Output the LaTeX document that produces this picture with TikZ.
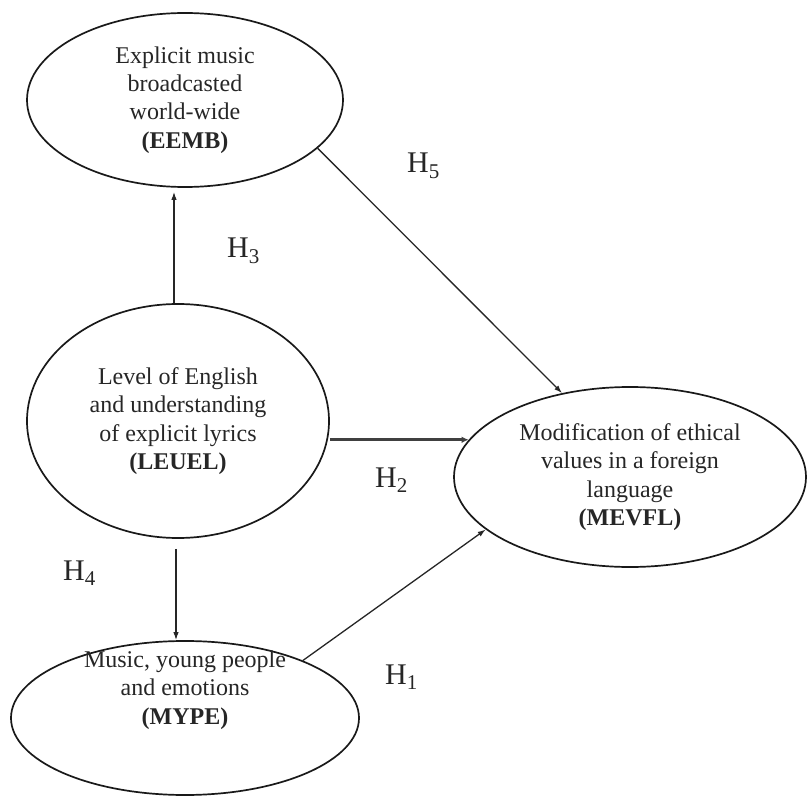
\documentclass[tikz,border=0pt]{standalone}
\usepackage{fontspec}
\setmainfont{Liberation Serif}
\usetikzlibrary{arrows.meta,shapes.geometric}
\begin{document}
\begin{tikzpicture}[x=1pt,y=-1pt,
  box/.style={draw=black!90, line width=1.7pt, ellipse, inner sep=0pt, align=center,
              text=black!85, font=\fontsize{24}{28.3}\selectfont},
  txt/.style={inner sep=0pt, align=center, text=black!85, font=\fontsize{24}{28.3}\selectfont},
  arr/.style={draw=black!85, line width=1.3pt, -{Latex[length=8pt,width=5.5pt]}},
  arrthick/.style={draw=black!75, line width=2.6pt, -{Latex[length=7pt,width=6.5pt]}},
  hyp/.style={anchor=base west, inner sep=0pt, text=black!85, font=\fontsize{30}{36}\selectfont}]

\useasboundingbox (0,0) rectangle (807,797);

\node[box, minimum width=316pt, minimum height=174pt] (EEMB) at (185,100)
  {Explicit music\\broadcasted\\world-wide\\\textbf{(EEMB)}};
\node[box, minimum width=302pt, minimum height=234pt] (LEUEL) at (178,421)
  {Level of English\\and understanding\\of explicit lyrics\\\textbf{(LEUEL)}};
\node[box, minimum width=352pt, minimum height=180pt] (MEVFL) at (630,477)
  {Modification of ethical\\values in a foreign\\language\\\textbf{(MEVFL)}};
\node[box, minimum width=348pt, minimum height=154pt] (MYPE) at (185,718) {};
\node[txt] (MYPEtext) at (185,690) {Music, young people\\and emotions\\\textbf{(MYPE)}};

\draw[arr, shorten >=4pt] ([xshift=-4pt]LEUEL.north) -- ([xshift=-4pt]LEUEL.north |- EEMB.south);
\draw[arr] ([xshift=-2pt,yshift=-10pt]LEUEL.south) -- ([xshift=-2pt]LEUEL.south |- MYPE.north);
\draw[arrthick] (LEUEL.east |- MEVFL.167.8) -- (MEVFL.167.8);
\draw[arr] (EEMB.-20) -- (MEVFL.129);
\draw[arr] (MYPE.26) -- (MEVFL.200);

\node[hyp] (H3) at (227,258) {H\textsubscript{3}};
\node[hyp] (H5) at (407,173) {H\textsubscript{5}};
\node[hyp] (H2) at (375,487) {H\textsubscript{2}};
\node[hyp] (H4) at (63,580) {H\textsubscript{4}};
\node[hyp] (H1) at (385,684) {H\textsubscript{1}};
\end{tikzpicture}
\end{document}
